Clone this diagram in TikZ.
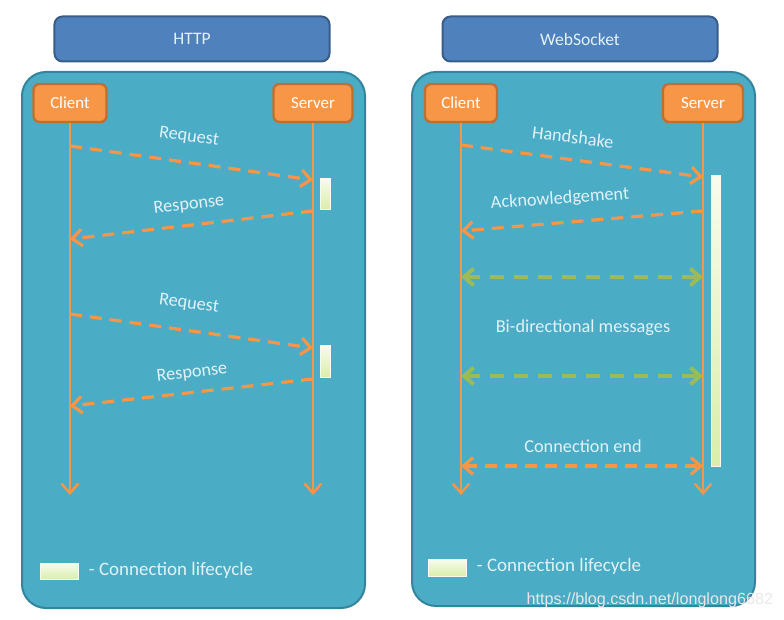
\documentclass[tikz,border=0pt]{standalone}
\usepackage{fontspec}
\setmainfont{Carlito}
\newfontfamily\wmfont{Liberation Sans}
\usetikzlibrary{arrows.meta}
\definecolor{hdrblue}{RGB}{79,129,189}
\definecolor{hdredge}{RGB}{56,93,138}
\definecolor{panelblue}{RGB}{75,172,198}
\definecolor{paneledge}{RGB}{49,133,156}
\definecolor{orng}{RGB}{247,150,70}
\definecolor{orngedge}{RGB}{190,112,50}
\definecolor{grn}{RGB}{155,187,89}
\definecolor{lbltext}{RGB}{226,242,247}
\definecolor{barlo}{RGB}{218,238,170}
\definecolor{barhi}{RGB}{248,252,238}
\tikzset{
  header/.style={draw=hdredge,fill=hdrblue,line width=0.5mm,rounded corners=2mm,
    minimum width=68.75mm,minimum height=11.25mm,text=lbltext,
    font=\fontsize{12.5}{15}\selectfont},
  panel/.style={draw=paneledge,fill=panelblue,line width=0.5mm,rounded corners=6mm},
  actor/.style={draw=orngedge,fill=orng,line width=0.6mm,rounded corners=1.5mm,
    minimum height=9.5mm,text=white,font=\fontsize{12}{14}\selectfont},
  life/.style={draw=orng,line width=0.6mm,->},
  msg/.style={draw=orng,line width=0.8mm,dash pattern=on 3mm off 2mm,->},
  bidi/.style={draw=grn,line width=1mm,dash pattern=on 3.4mm off 2.6mm,<->},
  lbl/.style={text=lbltext,font=\fontsize{13}{15}\selectfont},
  lifebar/.style={draw=barhi,line width=0.2mm,top color=barhi,bottom color=barlo},
}
\begin{document}
\begin{tikzpicture}[x=0.25mm,y=-0.25mm,>={Straight Barb[length=2.4mm,width=4.2mm]}]
  \useasboundingbox (0,0) rectangle (784,620);
  \node[header] (hh) at (192,39) {HTTP};
  \node[header] (wh) at (580,39) {WebSocket};
  \draw[panel] (22,72) rectangle (365,608);
  \draw[panel] (412,72) rectangle (755,606);
  \node[actor,minimum width=18.25mm] (hc) at (70,103) {Client};
  \node[actor,minimum width=19.75mm] (hs) at (313,103) {Server};
  \node[actor,minimum width=18mm] (wc) at (461,103) {Client};
  \node[actor,minimum width=20mm] (ws) at (703,103) {Server};
  \coordinate (hce) at (70,495);
  \coordinate (hse) at (313,495);
  \coordinate (wce) at (461,495);
  \coordinate (wse) at (703,495);
  \draw[lifebar] (320,178) rectangle (330,209);
  \draw[lifebar] (320,345) rectangle (330,377);
  \draw[lifebar] (711,175) rectangle (720,466);
  \draw[life] (hc) -- (hce);
  \draw[life] (hs) -- (hse);
  \draw[life] (wc) -- (wce);
  \draw[life] (ws) -- (wse);
  \coordinate (hc1) at (70,146);
  \coordinate (hs1) at (313,180);
  \coordinate (hs2) at (313,211);
  \coordinate (hc2) at (70,239);
  \coordinate (hc3) at (70,314);
  \coordinate (hs3) at (313,348);
  \coordinate (hs4) at (313,379);
  \coordinate (hc4) at (70,406);
  \draw[msg] (hc1) -- (hs1);
  \draw[msg] (hs2) -- (hc2);
  \draw[msg] (hc3) -- (hs3);
  \draw[msg] (hs4) -- (hc4);
  \node[lbl,rotate=-8] (req1) at (189,137) {Request};
  \node[lbl,rotate=7] (resp1) at (189,205) {Response};
  \node[lbl,rotate=-8] (req2) at (189,304) {Request};
  \node[lbl,rotate=7] (resp2) at (192,373) {Response};
  \coordinate (wc1) at (461,145);
  \coordinate (ws1) at (703,177);
  \coordinate (ws2) at (703,211);
  \coordinate (wc2) at (461,231);
  \coordinate (wc3) at (461,277);
  \coordinate (ws3) at (703,277);
  \coordinate (wc4) at (461,376);
  \coordinate (ws4) at (703,376);
  \coordinate (wc5) at (461,466);
  \coordinate (ws5) at (703,466);
  \draw[msg] (wc1) -- (ws1);
  \draw[msg] (ws2) -- (wc2);
  \draw[bidi] (wc3) -- (ws3);
  \draw[bidi] (wc4) -- (ws4);
  \draw[msg,<->] (wc5) -- (ws5);
  \node[lbl,rotate=-7] (hand) at (573,137) {Handshake};
  \node[lbl,rotate=4] (ack) at (560,199) {Acknowledgement};
  \node[lbl] (bidir) at (583,328) {Bi-directional messages};
  \node[lbl] (cend) at (583,446) {Connection end};
  \draw[lifebar] (40,563) rectangle (78,579);
  \node[lbl,anchor=west,font=\fontsize{13.5}{16}\selectfont] (hleg) at (84,570) {- Connection lifecycle};
  \draw[lifebar] (428,559) rectangle (466,576);
  \node[lbl,anchor=west,font=\fontsize{13.5}{16}\selectfont] (wleg) at (472,566) {- Connection lifecycle};
  \node[anchor=east,text=white!82!gray,font=\wmfont\fontsize{11.5}{13}\selectfont]
    (mark) at (778,600) {https://blog.csdn.net/longlong6682};
\end{tikzpicture}
\end{document}
